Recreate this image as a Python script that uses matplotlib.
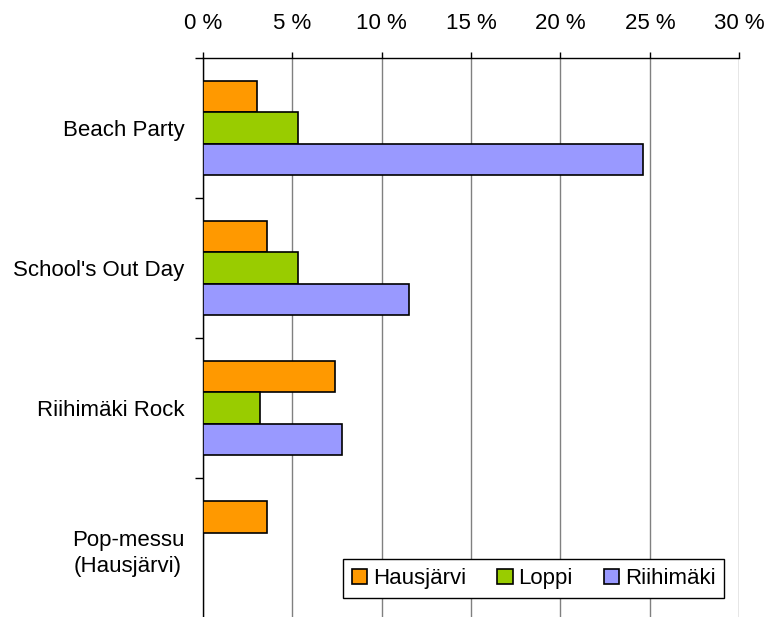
import numpy as np
from matplotlib import pyplot as plt

plt.rcParams['font.family'] = ['Liberation Sans', 'DejaVu Sans']

# share of respondents per event (%)
events = ["Beach Party", "School's Out Day", "Riihimäki Rock", "Pop-messu\n(Hausjärvi)"]
hausjarvi = [3.0, 3.6, 7.4, 3.6]
loppi = [5.3, 5.3, 3.2, 0.0]
riihimaki = [24.6, 11.5, 7.8, 0.0]
series = ["Hausjärvi", "Loppi", "Riihimäki"]
colors = ["#FF9900", "#99CC00", "#9999FF"]
xticks = [0, 5, 10, 15, 20, 25, 30]

fig = plt.figure(figsize=(7.66, 6.17), dpi=100)
ax = fig.add_axes([0.265, -0.002, 0.7, 0.908])

y = np.arange(len(events))
h = 0.224
for i, (vals, name, col) in enumerate(zip([hausjarvi, loppi, riihimaki], series, colors)):
    ax.barh(y + (i - 1) * h, vals, height=h, color=col, edgecolor='black',
            linewidth=1.2, label=name, zorder=3)

ax.set_xlim(0, 30)
ax.set_ylim(len(events) - 0.5, -0.5)
ax.set_xticks(xticks)
ax.set_xticklabels([f"{t} %" for t in xticks])
ax.xaxis.tick_top()
ax.tick_params(axis='x', length=4, width=1, pad=13, labelsize=16, direction='out')

ax.set_yticks(y)
ax.set_yticklabels(events, ha='right', multialignment='center', linespacing=1.35)
ax.set_yticks(np.arange(len(events) + 1) - 0.5, minor=True)
ax.tick_params(axis='y', which='major', length=0, pad=13.5, labelsize=16)
ax.tick_params(axis='y', which='minor', length=6, width=1, direction='out')

ax.grid(axis='x', color='#808080', linewidth=1, zorder=0)
for s in ['right', 'bottom']:
    ax.spines[s].set_visible(False)
ax.spines['top'].set_linewidth(1)
ax.spines['left'].set_linewidth(1)

leg = ax.legend(loc='lower right', bbox_to_anchor=(0.972, 0.036), borderaxespad=0,
                ncol=3, fontsize=16, frameon=True, fancybox=False, framealpha=1,
                edgecolor='black', handlelength=0.7, handleheight=0.7,
                handletextpad=0.25, columnspacing=1.4, borderpad=0.4)
leg.get_frame().set_linewidth(1)

fig.savefig('out.png', dpi=100)
